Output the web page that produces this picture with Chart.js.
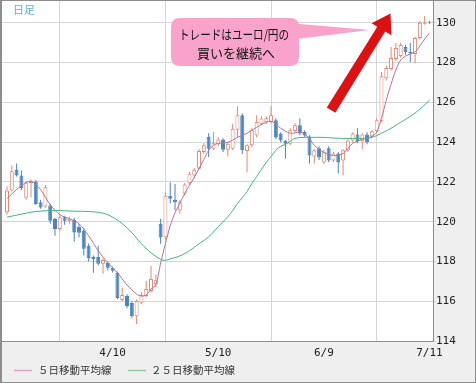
<!DOCTYPE html>
<html><head><meta charset="utf-8">
<script src="https://cdn.jsdelivr.net/npm/chart.js@4.4.1/dist/chart.umd.min.js"></script>
<style>html,body{margin:0;padding:0;background:#efefef;}canvas{display:block;}</style>
</head><body>
<canvas id="c" width="476" height="383"></canvas>
<script>
// trading-day index 0..88 (about 3/9 .. 7/11)
const opens  = [120.47,121.57,122.61,122.32,121.21,121.95,122.02,120.98,120.76,120.81,120.14,119.63,120.22,120.02,120.10,119.75,119.55,118.79,118.23,118.23,117.88,117.93,117.68,117.43,116.06,116.26,115.91,115.25,115.93,116.26,116.52,116.85,119.90,119.21,121.31,121.11,120.56,121.40,121.94,122.32,122.66,123.50,124.26,123.67,123.89,124.13,123.62,123.67,124.63,125.35,123.55,123.84,124.34,124.93,125.00,125.02,125.10,124.43,124.09,123.92,124.56,124.85,124.51,124.29,123.28,123.69,122.98,123.69,123.08,123.43,123.08,123.59,124.09,124.39,124.04,124.39,124.29,124.55,125.05,127.22,127.68,128.18,128.33,128.79,128.54,128.43,129.24,129.95,130.02];
const highs  = [121.77,122.83,122.93,122.58,122.05,122.12,122.10,121.10,121.85,120.90,120.20,120.30,120.30,120.25,120.20,119.90,119.70,118.90,118.30,118.79,118.15,118.00,117.75,117.50,116.67,116.35,116.00,116.10,116.45,117.02,117.78,117.35,120.15,121.47,121.99,121.90,121.10,121.95,122.50,122.70,123.65,123.95,124.45,124.51,124.25,124.20,124.00,124.93,125.81,125.45,123.90,124.70,125.35,125.30,125.30,125.81,125.20,124.50,124.10,124.70,124.95,125.20,124.60,124.35,123.65,123.80,123.60,123.80,123.50,123.50,123.65,124.15,124.50,124.70,124.45,124.50,124.60,125.20,127.53,127.85,128.79,128.99,129.00,128.90,128.99,129.30,130.10,130.35,130.10];
const lows   = [120.35,121.52,122.27,121.60,121.10,121.23,120.85,120.65,120.70,119.90,119.29,119.55,119.85,119.90,118.99,119.20,118.30,118.00,117.43,117.80,117.38,117.55,117.45,116.10,116.00,115.65,115.15,114.85,115.85,116.20,116.45,116.70,118.89,119.10,120.91,120.56,120.40,121.30,121.85,122.20,122.60,123.40,123.25,123.60,123.80,123.50,123.28,123.60,124.26,123.40,122.49,123.75,124.25,124.85,124.90,124.95,124.15,124.00,123.18,123.85,124.50,124.35,124.25,122.93,122.93,123.10,122.90,123.00,123.00,122.43,122.32,123.50,124.00,123.95,123.64,123.90,124.20,124.45,125.00,127.10,127.60,128.10,128.25,128.40,128.03,127.98,129.15,129.90,129.95];
const closes = [121.57,122.54,122.32,121.70,121.97,122.07,120.89,120.72,121.73,120.05,119.63,120.22,120.05,120.15,119.46,119.45,118.64,118.18,118.13,117.88,118.08,117.68,117.53,116.16,116.31,115.76,115.25,116.01,116.31,116.62,117.12,117.05,119.21,121.31,121.16,120.98,120.98,121.87,122.41,122.61,123.55,123.84,123.67,123.95,124.13,123.62,123.92,124.68,125.35,123.59,123.84,124.60,125.02,125.19,125.20,125.35,124.23,124.09,123.92,124.60,124.85,124.43,124.34,123.33,123.59,123.23,123.49,123.08,123.43,122.98,123.59,124.09,124.44,124.04,124.39,123.99,124.55,125.10,127.32,127.73,128.23,128.74,128.89,128.54,128.49,129.24,130.00,130.02,129.98];

// moving averages (index, value)
const ma5Idx = [0,2,4,5,6,7,9,11,13,15,17,19,21,23,25,27,28,29,30,31,32,33,34,35,36,37,38,39,40,41,42,43,44,46,48,50,52,54,55,56,57,59,61,62,63,64,66,68,70,72,74,76,77,78,79,80,81,82,83,84,85,86,87,88];
const ma5Val = [121.16,121.62,121.97,122.02,121.87,121.62,120.86,120.35,120.15,119.90,119.29,118.54,117.93,117.43,116.82,116.36,116.26,116.31,116.62,116.82,117.93,118.89,119.80,120.46,120.91,121.42,121.82,122.22,122.68,123.13,123.59,123.84,123.94,123.99,124.24,124.45,124.75,125.00,125.05,124.90,124.70,124.45,124.50,124.39,124.19,123.84,123.49,123.33,123.43,123.94,124.14,124.29,124.50,125.20,126.11,126.92,127.63,128.13,128.33,128.43,128.54,128.84,129.19,129.50];
const ma25Idx = [0,3,6,10,14,17,20,22,24,26,28,30,32,33,34,36,38,40,42,44,45,46,47,48,49,50,51,52,53,54,55,56,57,58,59,60,62,64,66,68,70,72,74,76,78,80,82,84,86,88];
const ma25Val = [120.23,120.38,120.51,120.56,120.53,120.51,120.43,120.23,119.90,119.45,118.89,118.44,118.11,118.06,118.13,118.28,118.54,118.89,119.24,119.75,120.00,120.25,120.56,120.91,121.21,121.52,121.92,122.27,122.63,122.98,123.28,123.59,123.79,123.89,124.04,124.19,124.24,124.24,124.24,124.21,124.19,124.19,124.19,124.24,124.45,124.70,125.00,125.30,125.66,126.11];

const xTickIdx = [0,22,44,66,88];
const xTickLabels = ['','4/10','5/10','6/9','7/11'];
const yTicks = [114,116,118,120,122,124,126,128,130];

const legendLabels = ['５日移動平均線','２５日移動平均線'];
const noteLines = ['トレードはユーロ/円の','買いを継続へ'];
const cornerLabel = '日足';

const UP = '#e68770', DOWN = '#4a84bf';
const isUp = opens.map((o,i)=>closes[i] >= o);

const decor = {
  id:'decor',
  beforeDraw(chart){
    const {ctx, chartArea:a} = chart;
    ctx.save();
    ctx.fillStyle = '#efefef'; ctx.fillRect(0,0,chart.width,chart.height);
    ctx.fillStyle = '#ffffff'; ctx.fillRect(a.left,0,a.right-a.left,a.bottom);
    ctx.restore();
  },
  afterDraw(chart){
    const {ctx} = chart;
    ctx.save();
    // frame
    ctx.strokeStyle = '#8d8d8d'; ctx.lineWidth = 1;
    ctx.strokeRect(0.5,0.5,chart.width-1,chart.height-1);
    ctx.beginPath(); ctx.moveTo(1.5,0); ctx.lineTo(1.5,chart.height); ctx.stroke();
    // corner label
    ctx.fillStyle = '#55b5dc'; ctx.font = "11px 'Noto Sans CJK JP'";
    ctx.textBaseline = 'middle'; ctx.textAlign = 'left';
    ctx.fillText(cornerLabel, 13, 10);
    // callout
    ctx.fillStyle = '#f9a2cb';
    ctx.beginPath();
    const rx=171, ry=18, rw=128, rh=48, r=9;
    ctx.moveTo(rx+r,ry); ctx.lineTo(rx+rw-r,ry); ctx.quadraticCurveTo(rx+rw,ry,rx+rw,ry+r);
    ctx.lineTo(rx+rw,ry+rh-r); ctx.quadraticCurveTo(rx+rw,ry+rh,rx+rw-r,ry+rh);
    ctx.lineTo(rx+r,ry+rh); ctx.quadraticCurveTo(rx,ry+rh,rx,ry+rh-r);
    ctx.lineTo(rx,ry+r); ctx.quadraticCurveTo(rx,ry,rx+r,ry); ctx.closePath(); ctx.fill();
    ctx.beginPath(); ctx.moveTo(288,23); ctx.lineTo(370,30); ctx.lineTo(288,40); ctx.closePath(); ctx.fill();
    ctx.fillStyle = '#111'; ctx.font = "13px 'Noto Sans CJK JP'"; ctx.textAlign='center';
    ctx.fillText(noteLines[0], 234, 34, 110);
    ctx.fillText(noteLines[1], 236, 53);
    // red arrow
    ctx.fillStyle = '#dd1111';
    ctx.beginPath();
    ctx.moveTo(326.8,107.4); ctx.lineTo(335.3,112.7); ctx.lineTo(385.2,31.5);
    ctx.lineTo(391.5,35.3); ctx.lineTo(390.5,13.5); ctx.lineTo(371.6,23.2);
    ctx.lineTo(377.3,26.7); ctx.closePath(); ctx.fill();
    // legend
    ctx.lineWidth = 1.5;
    ctx.strokeStyle = '#d9a6bd'; ctx.beginPath(); ctx.moveTo(14,370.5); ctx.lineTo(32,370.5); ctx.stroke();
    ctx.strokeStyle = '#8ccfaa'; ctx.beginPath(); ctx.moveTo(128,370.5); ctx.lineTo(146,370.5); ctx.stroke();
    ctx.fillStyle = '#333'; ctx.font = "10.5px 'Noto Sans CJK JP'"; ctx.textAlign='left';
    ctx.fillText(legendLabels[0], 38, 370);
    ctx.fillText(legendLabels[1], 151, 370);
    ctx.restore();
  }
};

new Chart(document.getElementById('c'), {
  type:'bar',
  data:{
    datasets:[
      { type:'line', label:legendLabels[0], data: ma5Idx.map((x,k)=>({x, y:ma5Val[k]})),
        borderColor:'#b8729a', borderWidth:1, pointRadius:0, tension:0.3, order:0 },
      { type:'line', label:legendLabels[1], data: ma25Idx.map((x,k)=>({x, y:ma25Val[k]})),
        borderColor:'#3fb677', borderWidth:1, pointRadius:0, tension:0.4, order:1 },
      { label:'body', data: opens.map((o,i)=>({x:i, y:[o, closes[i]]})),
        backgroundColor: isUp.map(u=>u?'#ffffff':DOWN), borderColor: isUp.map(u=>u?UP:DOWN),
        borderWidth:1, borderSkipped:false, barThickness:4, grouped:false, inflateAmount:0, order:2 },
      { label:'wick', data: lows.map((l,i)=>({x:i, y:[l, highs[i]]})),
        backgroundColor: isUp.map(u=>u?UP:DOWN), borderWidth:0, barThickness:1, grouped:false, inflateAmount:0, order:3 }
    ]
  },
  options:{
    responsive:false, animation:false, devicePixelRatio:1, events:[],
    layout:{ padding:{ left:2, top:1, right:0, bottom:0 } },
    plugins:{ legend:{display:false}, tooltip:{enabled:false} },
    scales:{
      x:{ type:'linear', min:-1.04, max:88.73, offset:false,
          afterFit(s){ s.height = 42; s.paddingLeft = 0; s.paddingRight = 0; },
          afterBuildTicks(s){ s.ticks = xTickIdx.map(v=>({value:v})); },
          grid:{ color:'#d6d6d6', drawTicks:false },
          border:{ display:true, color:'#8d8d8d' },
          ticks:{ autoSkip:false, maxRotation:0, padding:6, color:'#222',
                  font:{ family:'DejaVu Sans Mono', size:11 },
                  callback(v){ const k = xTickIdx.indexOf(v); return k>=0 ? xTickLabels[k] : ''; } } },
      y:{ type:'linear', position:'right', min:114, max:131.1,
          afterFit(s){ s.width = 43; s.paddingTop = 0; s.paddingBottom = 0; },
          afterBuildTicks(s){ s.ticks = yTicks.map(v=>({value:v})); },
          grid:{ color:'#d6d6d6', tickLength:3 },
          border:{ display:true, color:'#8d8d8d' },
          ticks:{ padding:0, color:'#222', font:{ family:'DejaVu Sans Mono', size:11 } } }
    }
  },
  plugins:[decor]
});
</script>
</body></html>
